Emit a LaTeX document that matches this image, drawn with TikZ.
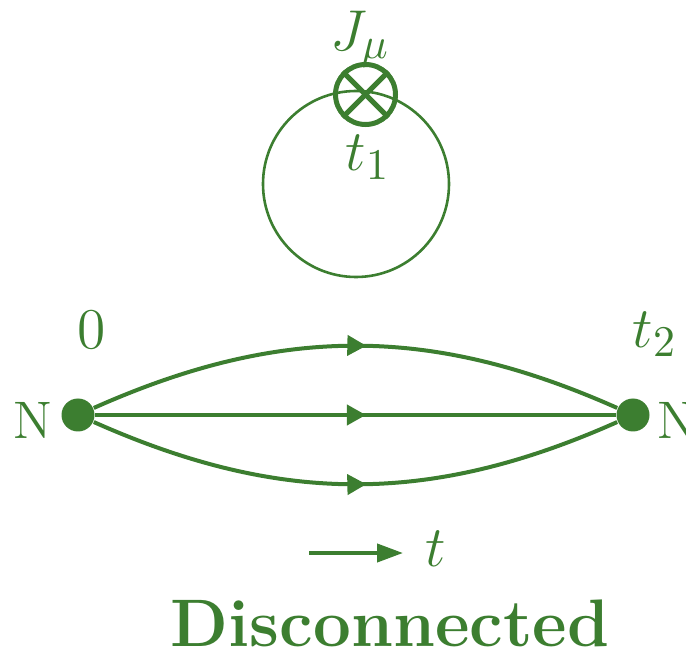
\documentclass[tikz,border=0pt]{standalone}
\usetikzlibrary{arrows.meta,decorations.markings}
\definecolor{dgreen}{RGB}{60,126,48}

\begin{document}
\begin{tikzpicture}[
x=0.25pt,y=-0.25pt,
every node/.style={text=dgreen,font=\fontsize{13.2}{15}\selectfont},
mlabel/.style={font=\fontsize{15.6}{18}\selectfont},
line/.style={draw=dgreen,line width=1pt},
dot/.style={circle,fill=dgreen,minimum size=8.25pt,inner sep=0pt},
midarrow/.style={postaction={decorate},decoration={markings,
  mark=at position 0.52 with {\arrow{Triangle[length=4.75pt,width=5pt]}}}},
>=Stealth]
\useasboundingbox (0,0) rectangle (686,652);
% loop with current insertion
\node (loop) [draw=dgreen,line width=0.65pt,circle,minimum size=46.5pt,inner sep=0pt] at (356,184) {};
\node (jcur) [draw=dgreen,line width=1.25pt,circle,minimum size=15pt,inner sep=0pt,fill=none] at (365.5,94.5) {};
\draw[line,line width=1.25pt] (jcur.north west)--(jcur.south east);
\draw[line,line width=1.25pt] (jcur.north east)--(jcur.south west);
\node (jlab) [mlabel] at (360,39) {$J_\mu$};
\node (tone) [mlabel] at (368,157) {$t_1$};
% nucleon propagators
\node (nl) [dot] at (78,415) {};
\node (nr) [dot] at (633,415) {};
\node (nll) at (33,420) {N};
\node (nrl) at (677,420) {N};
\node (tzero) [mlabel] at (92,330) {$0$};
\node (ttwo) [mlabel] at (655,334) {$t_2$};
\draw[line,midarrow] (nl) to[bend left=24] (nr);
\draw[line,midarrow] (nl) -- (nr);
\draw[line,midarrow] (nl) to[bend right=24] (nr);
% time direction
\coordinate (ts) at (309,553);
\coordinate (te) at (403,553);
\draw[line,-{Triangle[length=6.5pt,width=4.5pt]}] (ts)--(te);
\node (tdir) [mlabel] at (436,549) {$t$};
\node (title) at (390,623) {\fontsize{16.8}{19}\selectfont\bfseries Disconnected};
\end{tikzpicture}
\end{document}
